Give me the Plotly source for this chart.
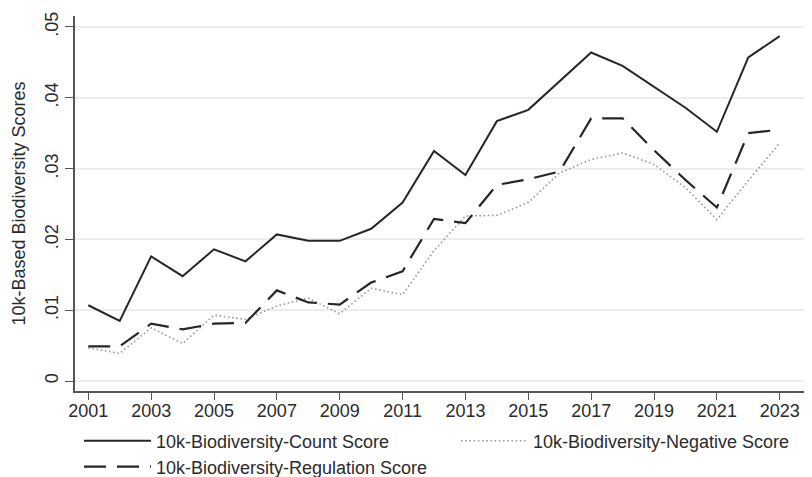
import plotly.graph_objects as go

years = list(range(2001, 2024))
count_score = [0.0107, 0.0085, 0.0176, 0.0148, 0.0186, 0.0169, 0.0207, 0.0198, 0.0198, 0.0215,
               0.0252, 0.0325, 0.0291, 0.0367, 0.0383, 0.0424, 0.0464, 0.0445, 0.0416, 0.0386,
               0.0352, 0.0457, 0.0487]
regulation_score = [0.0049, 0.0049, 0.0081, 0.0073, 0.0081, 0.0082, 0.0128, 0.0111, 0.0108, 0.0139,
                    0.0155, 0.0229, 0.0223, 0.0277, 0.0285, 0.0296, 0.0371, 0.0371, 0.0326, 0.0284,
                    0.0245, 0.0350, 0.0355]
negative_score = [0.0047, 0.0039, 0.0075, 0.0053, 0.0093, 0.0087, 0.0106, 0.0117, 0.0095, 0.0131,
                  0.0122, 0.0184, 0.0233, 0.0234, 0.0252, 0.0294, 0.0313, 0.0322, 0.0306, 0.0273,
                  0.0228, 0.0283, 0.0336]
x_ticks = list(range(2001, 2024, 2))
y_ticks = [0, 0.01, 0.02, 0.03, 0.04, 0.05]
y_tick_text = ["0", ".01", ".02", ".03", ".04", ".05"]

FONT = "Liberation Sans, Arial, sans-serif"
TXT = "#2b2b2b"
FS = 18

fig = go.Figure()
fig.add_trace(go.Scatter(x=years, y=count_score, mode="lines",
                         name="10k-Biodiversity-Count Score",
                         line=dict(color="#262626", width=2), legend="legend"))
fig.add_trace(go.Scatter(x=years, y=negative_score, mode="lines",
                         name="10k-Biodiversity-Negative Score",
                         line=dict(color="#9a9a9a", width=1.6, dash="1.6px,2.6px"), legend="legend2"))
fig.add_trace(go.Scatter(x=years, y=regulation_score, mode="lines",
                         name="10k-Biodiversity-Regulation Score",
                         line=dict(color="#262626", width=2.2, dash="22px,11px"), legend="legend3"))

W, H = 812, 477
def lg(px, py):
    return dict(xref="container", yref="container", x=px / W, y=1 - py / H,
                xanchor="left", yanchor="middle", orientation="h",
                font=dict(family=FONT, size=FS, color=TXT), itemwidth=67,
                bgcolor="rgba(0,0,0,0)", borderwidth=0)

fig.update_layout(
    width=W, height=H,
    margin=dict(l=67, r=1, t=8, b=94),
    paper_bgcolor="white", plot_bgcolor="white",
    font=dict(family=FONT, size=FS, color=TXT),
    showlegend=True,
    legend=lg(71, 433),
    legend2=lg(448, 433),
    legend3=lg(71, 459),
    xaxis=dict(range=[2000.577, 2024.25], tickvals=x_ticks, showgrid=False, zeroline=False,
               showline=True, linecolor="#555555", linewidth=1.6,
               ticks="outside", ticklen=7, tickwidth=1.4, tickcolor="#555555",
               ticklabelstandoff=-4,
               tickfont=dict(family=FONT, size=FS, color=TXT)),
    yaxis=dict(range=[-0.00141, 0.05155], tickvals=y_ticks, ticktext=y_tick_text, tickangle=-90,
               showgrid=True, gridcolor="#ededed", gridwidth=2, zeroline=False,
               showline=True, linecolor="#555555", linewidth=1.6,
               ticks="outside", ticklen=8, tickwidth=1.4, tickcolor="#555555",
               tickfont=dict(family=FONT, size=FS, color=TXT),
               title=dict(text="10k-Based Biodiversity Scores", standoff=12,
                          font=dict(family=FONT, size=FS, color=TXT))),
)

fig.write_html("out.html")
